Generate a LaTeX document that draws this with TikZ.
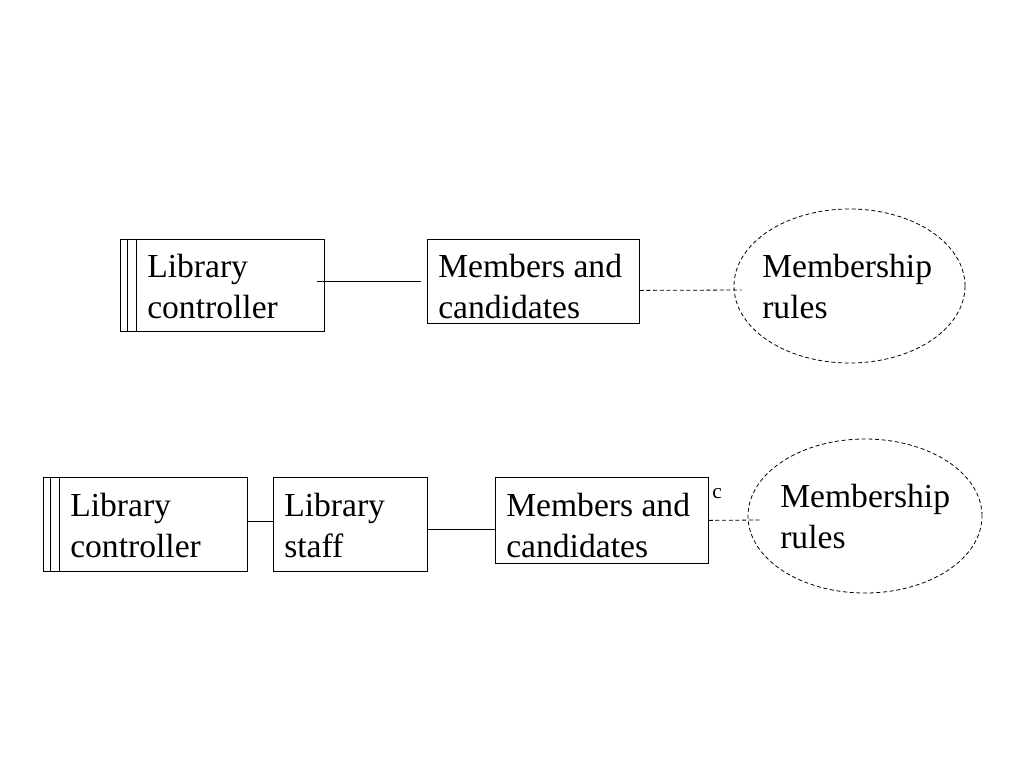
\documentclass[tikz,border=0pt]{standalone}
\usepackage{fontspec}
\setmainfont{Liberation Serif}
\usetikzlibrary{shapes.geometric,calc}
\begin{document}
\begin{tikzpicture}[x=0.75pt,y=-0.75pt,
  box/.style={draw,line width=0.6pt,inner sep=0pt,anchor=north west},
  oval/.style={draw,dashed,dash pattern=on 3pt off 2pt,line width=0.6pt,ellipse,inner sep=0pt},
  lbl/.style={anchor=north west,inner sep=0pt,align=left,font=\fontsize{25.2}{30.75}\selectfont},
  link/.style={line width=0.6pt},
  dlink/.style={line width=0.6pt,dash pattern=on 3pt off 2pt}]
\useasboundingbox (0,0) rectangle (1024,768);
% top row
\node[box,minimum width=204*0.75pt,minimum height=92*0.75pt] (ctrl1) at (120,239) {};
\draw[link] ([xshift=7*0.75pt]ctrl1.north west) -- ([xshift=7*0.75pt]ctrl1.south west);
\draw[link] ([xshift=16*0.75pt]ctrl1.north west) -- ([xshift=16*0.75pt]ctrl1.south west);
\node[lbl] (t1) at (147,254.3) {Library\\controller};
\node[box,minimum width=212*0.75pt,minimum height=84*0.75pt] (mem1) at (427,239) {};
\node[lbl] (t2) at (438,254.3) {Members and\\candidates};
\node[oval,minimum width=231*0.75pt,minimum height=154*0.75pt] (ell1) at (849.5,286) {};
\node[lbl] (t3) at (762,254.3) {Membership\\rules};
\draw[link] ($(ctrl1.east |- mem1.west)+(-8,0)$) -- ($(mem1.west)+(-6,0)$);
\draw[dlink] ($(mem1.east)+(0,9)$) -- ($(ell1.west)+(8,4)$);
% bottom row
\node[box,minimum width=204*0.75pt,minimum height=94*0.75pt] (ctrl2) at (43,477) {};
\draw[link] ([xshift=7*0.75pt]ctrl2.north west) -- ([xshift=7*0.75pt]ctrl2.south west);
\draw[link] ([xshift=16*0.75pt]ctrl2.north west) -- ([xshift=16*0.75pt]ctrl2.south west);
\node[lbl] (t4) at (70,492.5) {Library\\controller};
\node[box,minimum width=154*0.75pt,minimum height=94*0.75pt] (staff2) at (272.7,477) {};
\node[lbl] (t5) at (284,492.5) {Library\\staff};
\node[box,minimum width=213*0.75pt,minimum height=86*0.75pt] (mem2) at (495,477) {};
\node[lbl] (t6) at (506,492.5) {Members and\\candidates};
\node[oval,minimum width=234*0.75pt,minimum height=154*0.75pt] (ell2) at (865,516) {};
\node[lbl] (t7) at (780,484) {Membership\\rules};
\node[anchor=base west,inner sep=0pt,font=\fontsize{16}{19}\selectfont] (c2) at (712,498) {c};
\draw[link] ($(ctrl2.east)+(0,-3)$) -- ($(staff2.west)+(0,-3)$);
\draw[link] ($(staff2.east)+(0,5)$) -- ($(mem2.west)+(0,9)$);
\draw[dlink] ($(mem2.east)+(0,0)$) -- ($(ell2.west)+(12,4)$);
\end{tikzpicture}
\end{document}
